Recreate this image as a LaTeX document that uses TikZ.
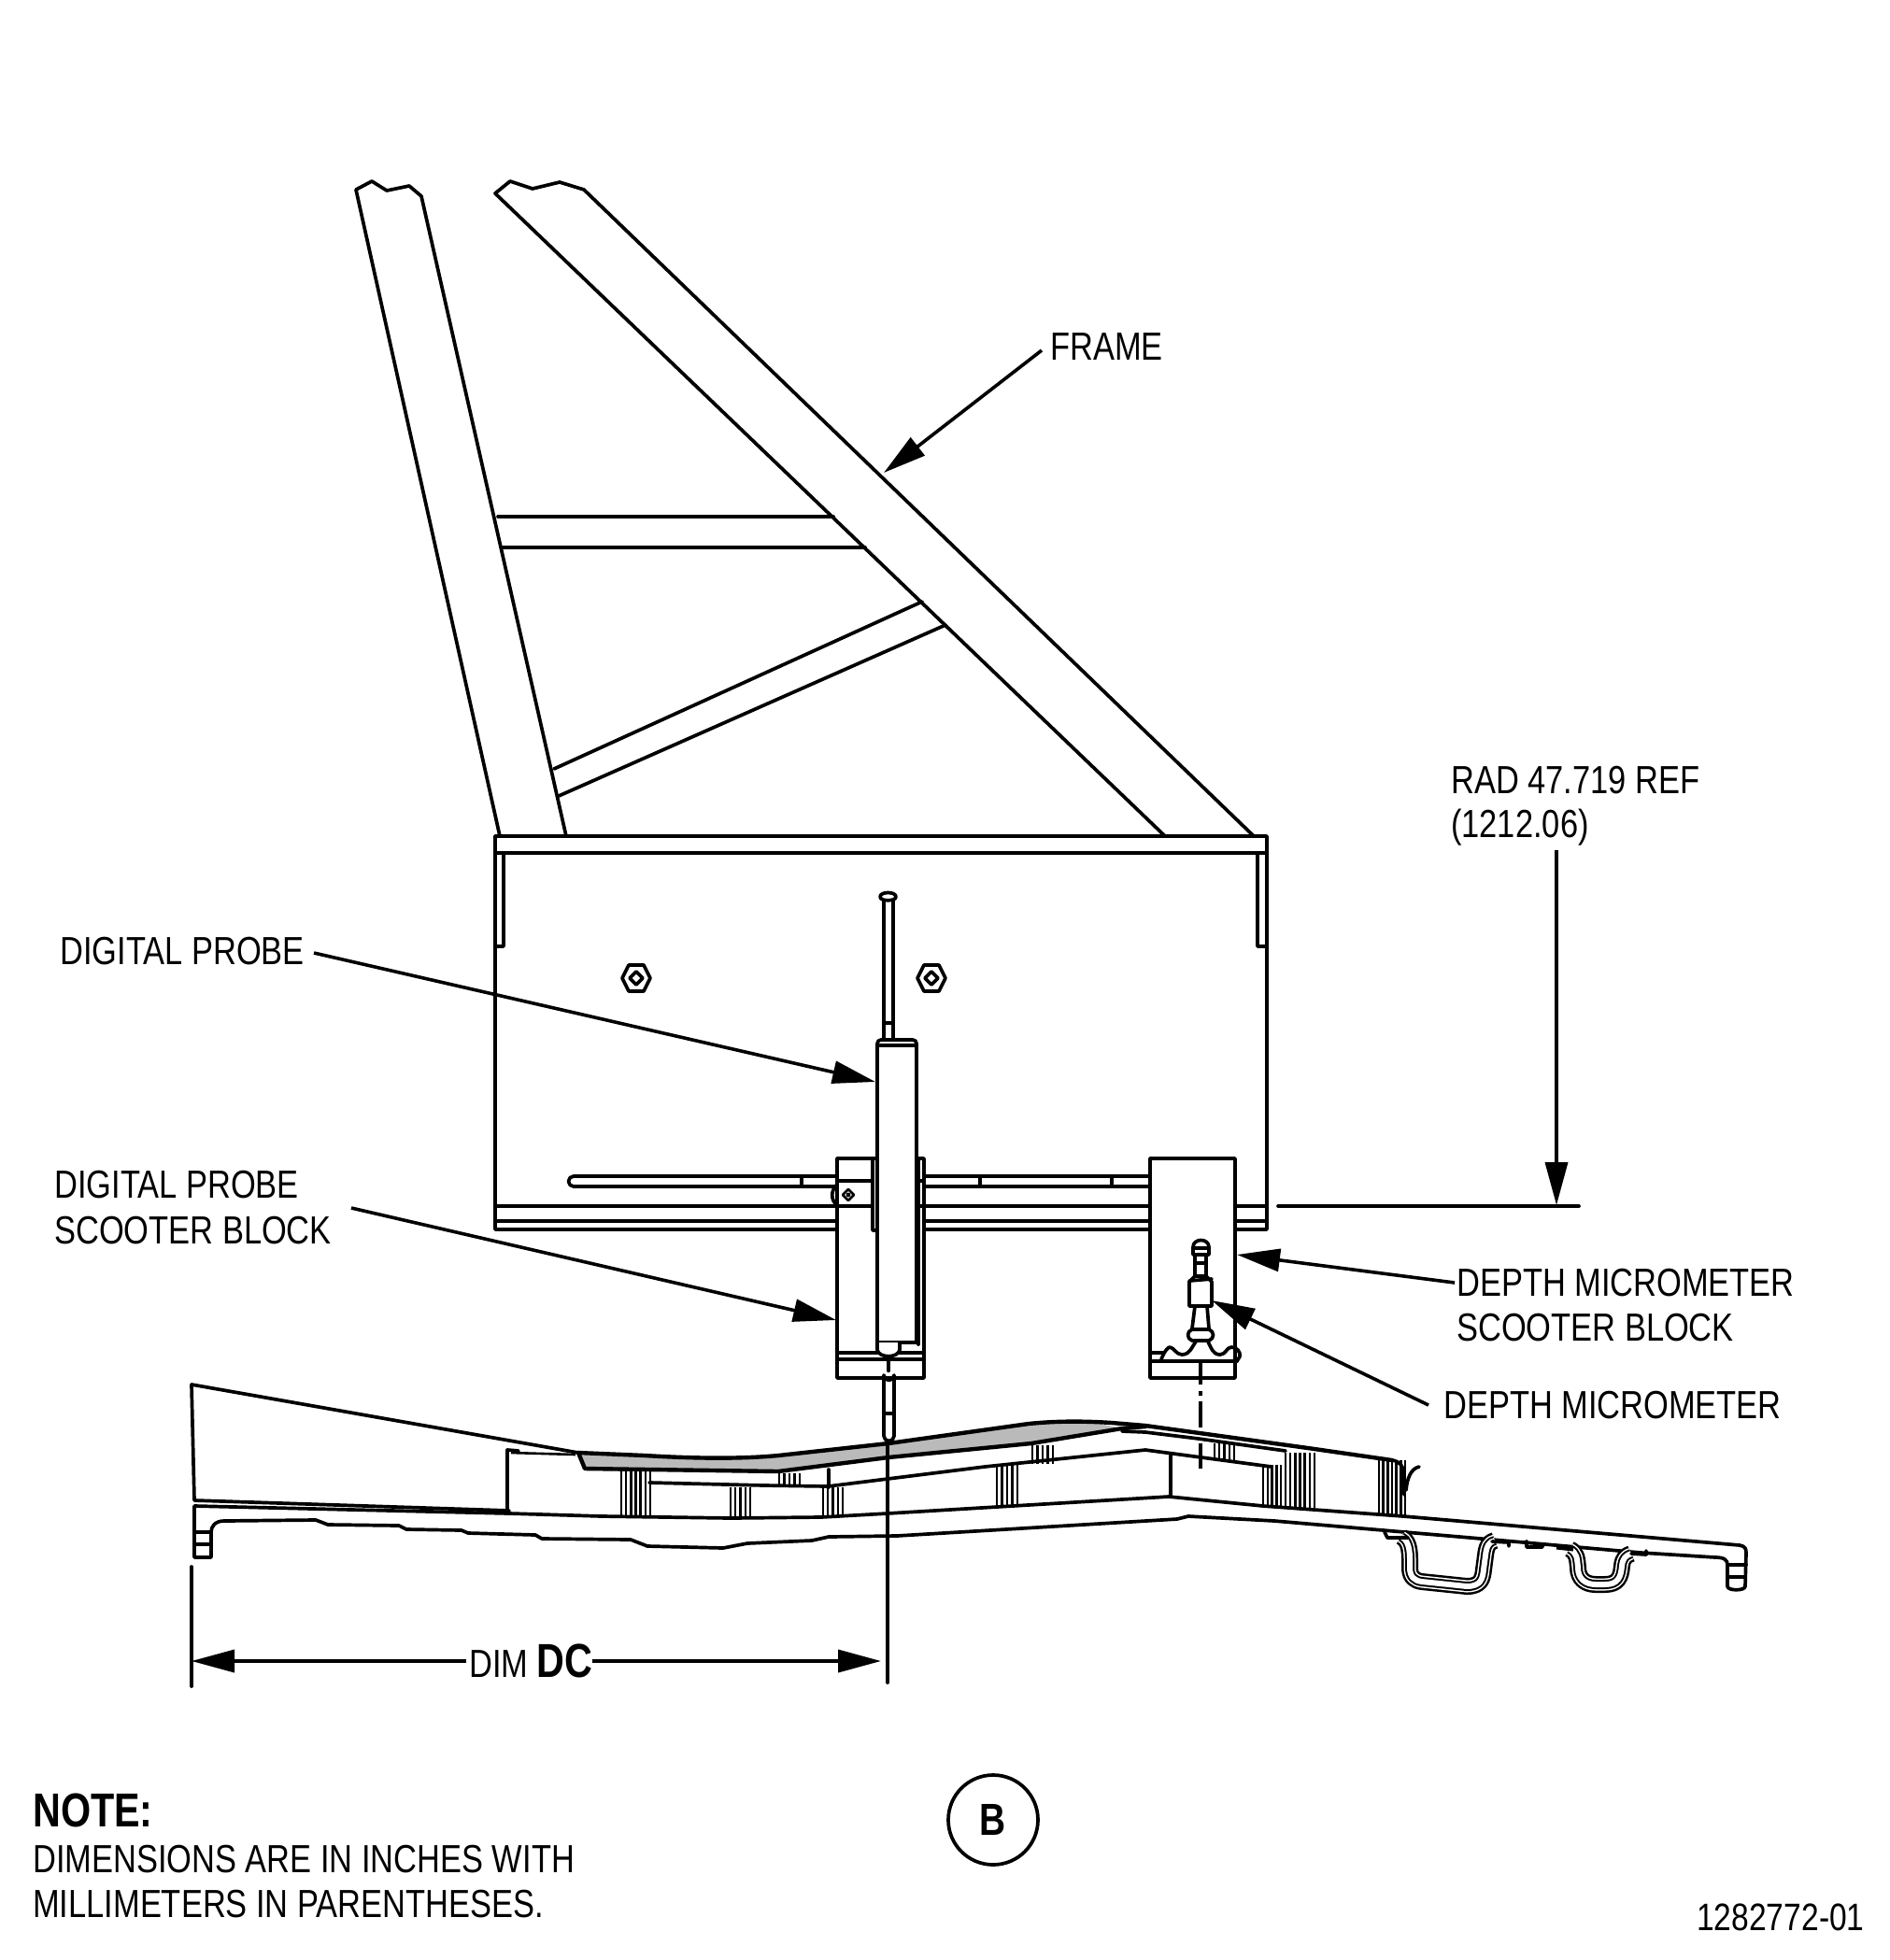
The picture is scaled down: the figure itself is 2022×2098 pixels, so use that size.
\documentclass[tikz,border=0pt]{standalone}
\usepackage{fontspec}
\usetikzlibrary{arrows.meta}
\newfontfamily\labfont[FakeStretch=0.82]{Liberation Sans}
\newfontfamily\labbold[FakeStretch=0.81]{Liberation Sans Bold}
\newcommand{\nutshape}[2]{%
  \draw[ln] (#1+15,#2) -- (#1+8,#2+14) -- (#1-8,#2+14) -- (#1-15,#2) -- (#1-8,#2-14) -- (#1+8,#2-14) -- cycle;
  \draw[ln] (#1+7,#2) -- (#1,#2+7) -- (#1-7,#2) -- (#1,#2-7) -- cycle;}
\newcommand{\hatchlines}[5]{% x0 x1 y0 y1 count
  \foreach \hi in {0,...,#5}{\draw[hatch] ({#1+(#2-#1)*\hi/#5},#3) -- ({#1+(#2-#1)*\hi/#5},#4);}}
\tikzset{
  ln/.style={line width=3.7pt,line join=round,line cap=round},
  thk/.style={line width=4.4pt,line join=round,line cap=round},
  thn/.style={line width=2.6pt,line join=round},
  hatch/.style={line width=2.4pt},
  lead/.style={line width=3.6pt,-{Triangle[length=46pt,width=24pt]}},
  lab/.style={anchor=base west,inner sep=0pt,font=\labfont\fontsize{42}{48}\selectfont},
  labb/.style={anchor=base west,inner sep=0pt,font=\labbold\fontsize{51}{56}\selectfont},
}
\begin{document}
\begin{tikzpicture}[x=1pt,y=-1pt]
\useasboundingbox (0,0) rectangle (2022,2098);
\fill[white] (0,0) rectangle (2022,2098);
% frame bars
\draw[ln] (535,895) -- (381,203) -- (398,194) -- (414,204) -- (438,199) -- (451,210) -- (606,895);
\draw[ln] (1247,895) -- (530,207) -- (546,194) -- (570,202) -- (599,195) -- (625,203) -- (1342,895);
\draw[ln] (533,553) -- (892,553) (538,586) -- (926,586);
\draw[ln] (593,823) -- (987,644) (598,852) -- (1012,669);
% box
\draw[ln] (530,895) rectangle (1356,913);
\draw[ln] (530,913) -- (530,1316) -- (1356,1316) -- (1356,913);
\draw[ln] (539,913) -- (539,1013) -- (530,1013) (1346,913) -- (1346,1013) -- (1356,1013);
\draw[ln] (530,1291) -- (1356,1291) (530,1307) -- (1356,1307);
% slot
\draw[ln] (1230,1259) -- (614,1259) arc[start angle=270,end angle=90,radius=5.5] -- (1230,1270);
\draw[ln] (858,1259) -- (858,1270) (1049,1259) -- (1049,1270) (1190,1259) -- (1190,1270);
% nuts
\nutshape{681}{1047}
\nutshape{997}{1047}
% probe scooter block
\draw[ln,fill=white] (896,1240) rectangle (989,1475);
\draw[ln] (896,1264) -- (934,1264) (896,1291) -- (934,1291);
\draw[ln,fill=white] (934,1240) rectangle (983,1317);
\draw[ln] (983,1240) -- (983,1439);
\draw[ln] (983,1264) -- (989,1264) (983,1291) -- (989,1291);
\draw[ln] (896,1448) -- (939,1448) (963,1448) -- (989,1448);
\draw[ln] (896,1455) -- (989,1455);
\draw[ln] (896,1268) .. controls (889,1274) and (889,1285) .. (896,1290);
\draw[thn] (908,1273) -- (914,1279) -- (908,1285) -- (902,1279) -- cycle;
\fill (908,1279) circle[radius=2.4];
% probe
\draw[ln] (946,960) -- (946,1113) (956,960) -- (956,1113) (946,1095) -- (956,1095);
\draw[ln,fill=white] (942,960) .. controls (942,954) and (959,954) .. (959,960) .. controls (959,965) and (942,965) .. (942,960);
\draw[ln,fill=white] (939,1117) -- (939,1437) -- (981,1437) -- (981,1117) arc[start angle=0,end angle=-90,radius=4] -- (943,1113) arc[start angle=270,end angle=180,radius=4];
\draw[ln] (939,1119) -- (981,1119);
\draw[ln,fill=white] (939,1437) -- (939,1445) .. controls (941,1454) and (961,1454) .. (963,1445) -- (963,1437);
\draw[thk] (951,1453) -- (951,1467);
\draw[ln,fill=white] (946,1472) arc[start angle=180,end angle=0,radius=5.5] -- (957,1537) arc[start angle=0,end angle=180,radius=5.5] -- cycle;
\draw[ln] (946,1513) -- (957,1513);
% micrometer block
\draw[ln,fill=white] (1231,1240) rectangle (1322,1475);
\draw[ln] (1231,1457) -- (1324,1457);
\draw[ln] (1233,1448) -- (1245,1448);
\draw[ln,fill=white] (1277,1335) .. controls (1277,1325) and (1294,1325) .. (1294,1335) -- (1294,1343) -- (1277,1343) -- cycle;
\draw[ln] (1277,1336) -- (1294,1336);
\draw[ln] (1279,1345) -- (1279,1368) (1291,1345) -- (1291,1368) (1279,1352) -- (1291,1352);
\draw[ln,fill=white] (1273,1372) -- (1279,1366) -- (1291,1366) -- (1297,1372) -- (1297,1398) -- (1273,1398) -- cycle;
\draw[ln] (1273,1371) -- (1297,1369);
\draw[ln] (1279,1398) -- (1276,1422) (1292,1398) -- (1294,1422);
\draw[ln,fill=white] (1276,1423) -- (1294,1423) .. controls (1300,1425) and (1300,1433) .. (1294,1435) -- (1276,1435) .. controls (1270,1433) and (1270,1425) .. (1276,1423);
\draw[ln] (1243,1455) .. controls (1246,1447) and (1250,1442) .. (1252,1442) .. controls (1256,1442) and (1259,1450) .. (1265,1450) .. controls (1274,1450) and (1276,1441) .. (1280,1436);
\draw[ln] (1293,1436) .. controls (1296,1442) and (1298,1450) .. (1306,1450) .. controls (1312,1450) and (1313,1442) .. (1318,1442) .. controls (1324,1442) and (1328,1447) .. (1327,1452) -- (1324,1457);
% centreline
\draw[line width=3.4pt,dash pattern=on 24pt off 7pt on 5pt off 6pt on 28pt off 17pt on 27pt] (1285,1458) -- (1285,1572);
% gray strip
\fill[black!27] (619,1555) -- (762,1560) -- (833,1558) -- (951,1545) -- (1101,1524) -- (1129,1522) -- (1167,1522) -- (1201,1529) -- (1104,1545) -- (951,1560) -- (833,1575) -- (626,1572) -- cycle;
\draw[thk] (619,1555) -- (690,1558) .. controls (740,1561) and (790,1562) .. (833,1558) -- (951,1545) -- (1101,1524) .. controls (1130,1521) and (1160,1521) .. (1190,1523) -- (1226,1526) -- (1400,1550) -- (1490,1563);
\draw[thk] (619,1555) -- (626,1572) -- (833,1575) -- (951,1560) -- (1104,1545) -- (1201,1529) -- (1226,1527);
\draw[ln] (1201,1532) -- (1226,1533) -- (1283,1540) -- (1376,1553);
% wedge
\draw[ln] (619,1555) -- (205,1482) -- (208,1606) -- (545,1617);
\draw[ln] (543,1617) -- (543,1552) -- (555,1553);
\draw[thn] (547,1555) -- (616,1557);
% inner rib
\draw[ln] (695,1587) -- (818,1590) -- (886,1591) -- (1054,1570) -- (1226,1552) -- (1361,1570);
\draw[ln] (887,1573) -- (887,1592) (1253,1557) -- (1253,1602);
% outer skin
\draw[ln] (208,1612) -- (545,1620) -- (644,1623) -- (782,1625) -- (879,1624) -- (950,1620) -- (1251,1602) -- (1352,1612) -- (1502,1623) -- (1862,1654) .. controls (1868,1655) and (1869,1658) .. (1869,1662) -- (1868,1698) .. controls (1868,1703) and (1849,1703) .. (1849,1698) -- (1849,1675) .. controls (1849,1670) and (1846,1667) .. (1836,1667) -- (1756,1662) -- (1597,1648) -- (1364,1628) -- (1272,1623) -- (1260,1626) -- (960,1644) -- (887,1645) -- (869,1649) -- (800,1652) -- (774,1657) -- (693,1655) -- (675,1648) -- (580,1647) -- (573,1643) -- (501,1641) -- (494,1638) -- (435,1637) -- (427,1633) -- (351,1632) -- (338,1627) -- (240,1628) .. controls (230,1628) and (226,1634) .. (226,1640) -- (226,1667) -- (208,1667) -- (208,1612);
\draw[ln] (208,1640) -- (226,1640) (208,1653) -- (226,1653);
\draw[ln] (1849,1675) -- (1869,1675) (1849,1688) -- (1868,1688);
% hatch clusters
\hatchlines{665}{696}{1573}{1622}{6}
\hatchlines{782}{803}{1592}{1625}{4}
\hatchlines{834}{856}{1577}{1590}{4}
\hatchlines{881}{902}{1592}{1622}{4}
\hatchlines{1105}{1127}{1547}{1567}{4}
\hatchlines{1067}{1089}{1568}{1613}{4}
\hatchlines{1300}{1321}{1545}{1563}{4}
\hatchlines{1352}{1376}{1568}{1613}{5}
\hatchlines{1376}{1407}{1555}{1615}{6}
\hatchlines{1476}{1504}{1563}{1623}{6}
\draw[ln] (1490,1563) .. controls (1498,1564) and (1503,1570) .. (1503,1578) -- (1503,1600);
\draw[ln] (1505,1595) .. controls (1506,1583) and (1510,1572) .. (1519,1570);
% channels
\foreach \wd/\cl in {18/black,13/white,10/black,6/white}{
\draw[line width=\wd pt,color=\cl,line join=round] (1500,1645) .. controls (1510,1650) and (1509,1665) .. (1509,1678) .. controls (1509,1688) and (1514,1692) .. (1522,1693) -- (1570,1698) .. controls (1585,1698) and (1587,1690) .. (1588,1680) -- (1590,1665) .. controls (1591,1655) and (1594,1650) .. (1600,1649);
\draw[line width=\wd pt,color=\cl,line join=round] (1680,1658) .. controls (1688,1662) and (1688,1668) .. (1689,1678) .. controls (1689,1690) and (1697,1696) .. (1708,1696) -- (1718,1696) .. controls (1732,1696) and (1735,1688) .. (1736,1676) .. controls (1737,1668) and (1740,1665) .. (1746,1663);
}
\draw[ln] (1482,1640) -- (1485,1646) -- (1507,1646);
\draw[ln] (1597,1650) -- (1615,1651) -- (1615,1655);
\draw[ln] (1634,1650) -- (1634,1656) -- (1651,1656) -- (1651,1653);
\draw[line width=5pt] (1666,1656) -- (1684,1658);
\draw[ln] (1746,1663) -- (1762,1664) -- (1762,1660);
% dimension lines
\coordinate (dimL) at (205,1778);
\coordinate (dimR) at (943,1778);
\coordinate (radTop) at (1666,910);
\coordinate (radTip) at (1666,1290);
\draw[ln] (205,1677) -- (205,1805);
\draw[ln] (950,1548) -- (950,1801);
\draw[ln] (1368,1291) -- (1690,1291);
% labels
\node[lab] (tFrame) at (1124,385) {FRAME};
\node[lab] (tRad) at (1553,849) {RAD 47.719 REF};
\node[lab] (tRadMm) at (1553,896) {(1212.06)};
\node[lab] (tProbe) at (64,1032) {DIGITAL PROBE};
\node[lab] (tScootA) at (58,1282) {DIGITAL PROBE};
\node[lab] (tScootB) at (58,1331) {SCOOTER BLOCK};
\node[lab] (tDepthA) at (1559,1387) {DEPTH MICROMETER};
\node[lab] (tDepthB) at (1559,1435) {SCOOTER BLOCK};
\node[lab] (tMicro) at (1545,1518) {DEPTH MICROMETER};
\node[lab] (tDim) at (502,1795) {DIM};
\node[labb] (tDC) at (574,1795) {DC};
\node[labb] (tNote) at (35,1955) {NOTE:};
\node[lab] (tNoteA) at (35,2004) {DIMENSIONS ARE IN INCHES WITH};
\node[lab] (tNoteB) at (35,2052) {MILLIMETERS IN PARENTHESES.};
\node[lab,font=\labfont\fontsize{41}{46}\selectfont] (tFig) at (1816,2066) {1282772-01};
\node[circle,draw,line width=3.7pt,minimum size=96pt,inner sep=0pt,font=\labbold\fontsize{48}{52}\selectfont] (tB) at (1063,1948) {B};
% leaders
\coordinate (sFrame) at (1115,375);   \coordinate (pFrame) at (946,506);
\coordinate (sProbe) at (336,1020);   \coordinate (pProbe) at (937,1158);
\coordinate (sScoot) at (376,1293);   \coordinate (pScoot) at (895,1413);
\coordinate (sDepth) at (1557,1373);  \coordinate (pDepth) at (1324,1343);
\coordinate (sMicro) at (1529,1504);  \coordinate (pMicro) at (1297,1392);
\draw[lead] (sFrame) -- (pFrame);
\draw[lead] (sProbe) -- (pProbe);
\draw[lead] (sScoot) -- (pScoot);
\draw[lead] (sDepth) -- (pDepth);
\draw[lead] (sMicro) -- (pMicro);
\draw[lead] (radTop) -- (radTip);
\draw[lead] (499,1778) -- (dimL);
\draw[lead] (634,1778) -- (dimR);
\end{tikzpicture}
\end{document}
